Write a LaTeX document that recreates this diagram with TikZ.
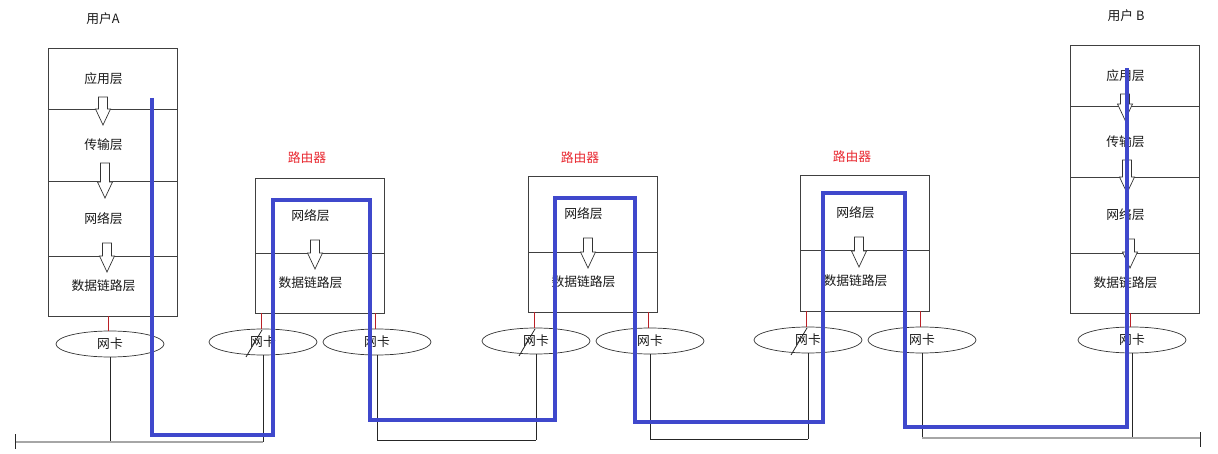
\documentclass[tikz,border=0pt]{standalone}
\usepackage{fontspec}
\setmainfont{Noto Sans CJK SC}
\usepackage{tikz}
\usetikzlibrary{positioning,shapes.geometric}
\usepackage{xcolor}
\definecolor{pathblue}{RGB}{63,72,204}
\definecolor{routerred}{RGB}{232,40,48}

\begin{document}
\begin{tikzpicture}[x=1pt, y=-1pt,
  every node/.style={font=\fontsize{12.8}{15}\selectfont, text=black!90},
  layer/.style={draw=black!75, line width=0.9pt, minimum width=129pt, inner sep=0pt,
                label={[xshift=-9pt]center:#1}},
  nic/.style={ellipse, draw=black!80, line width=0.7pt, minimum width=108pt,
              minimum height=26pt, inner sep=0pt},
  wire/.style={draw=black!85, line width=0.8pt},
  graybus/.style={draw=black!35, line width=1.4pt},
  redline/.style={draw=routerred!80!black, line width=0.7pt},
  route/.style={draw=pathblue, line width=3.2pt},
  pics/hollowdown/.style={code={
    \draw[black!80, line width=0.7pt, fill=white]
      (-4.5,0) -- (4.5,0) -- (4.5,#1-16) -- (7.5,#1-16) -- (0,#1)
      -- (-7.5,#1-16) -- (-4.5,#1-16) -- cycle;}}
]
\useasboundingbox (0,0) rectangle (1218,454);

% user A
\node (titleA) at (103,19) {用户A};
\node[layer=应用层,     minimum height=61pt] (aApp)   at (112.5,78.5)  {};
\node[layer=传输层,     minimum height=72pt] (aTrans) at (112.5,145)   {};
\node[layer=网络层,     minimum height=75pt] (aNet)   at (112.5,218.5) {};
\node[layer=数据链路层, minimum height=60pt] (aLink)  at (112.5,286)   {};

% routers
\node[text=routerred] (titleR1) at (307,158) {路由器};
\node[layer=网络层,     minimum height=75pt] (r1Net)  at (319.5,215.5) {};
\node[layer=数据链路层, minimum height=60pt] (r1Link) at (319.5,283)   {};

\node[text=routerred] (titleR2) at (580,158) {路由器};
\node[layer=网络层,     minimum height=76pt] (r2Net)  at (592.5,214)   {};
\node[layer=数据链路层, minimum height=60pt] (r2Link) at (592.5,282)   {};

\node[text=routerred] (titleR3) at (852,157) {路由器};
\node[layer=网络层,     minimum height=75pt] (r3Net)  at (864.5,212.5) {};
\node[layer=数据链路层, minimum height=61pt] (r3Link) at (864.5,280.5) {};

% user B
\node (titleB) at (1126,16) {用户 B};
\node[layer=应用层,     minimum height=61pt] (bApp)   at (1134.5,75.5) {};
\node[layer=传输层,     minimum height=71pt] (bTrans) at (1134.5,141.5) {};
\node[layer=网络层,     minimum height=76pt] (bNet)   at (1134.5,215)  {};
\node[layer=数据链路层, minimum height=60pt] (bLink)  at (1134.5,283)  {};

\pic at (103,97)   {hollowdown=28};
\pic at (105,163)  {hollowdown=35};
\pic at (107,243)  {hollowdown=29};
\pic at (315,240)  {hollowdown=29};
\pic at (588,238)  {hollowdown=30};
\pic at (859,237)  {hollowdown=30};
\pic at (1125,94)  {hollowdown=26};
\pic at (1127,160) {hollowdown=33};
\pic at (1130,239) {hollowdown=29};

% network cards
\node[nic] (nicA)   at (110,344)  {网卡};
\node[nic] (nicR1a) at (263,342)  {网卡};
\node[nic] (nicR1b) at (377,342)  {网卡};
\node[nic] (nicR2a) at (536,341)  {网卡};
\node[nic] (nicR2b) at (650,341)  {网卡};
\node[nic] (nicR3a) at (808,340)  {网卡};
\node[nic] (nicR3b) at (922,340)  {网卡};
\node[nic] (nicB)   at (1132,340) {网卡};

\coordinate (busW) at (15,442);
\coordinate (bus1) at (0,440);
\coordinate (bus2) at (0,439);
\coordinate (busE) at (1200,438);

\foreach \n/\b in {nicA/aLink, nicR1a/r1Link, nicR1b/r1Link, nicR2a/r2Link,
                   nicR2b/r2Link, nicR3a/r3Link, nicR3b/r3Link, nicB/bLink}
  \draw[redline] ([xshift=-2pt]\n.north) -- ([xshift=-2pt]\n.north |- \b.south);

\foreach \n/\bus in {nicA/busW, nicR1a/busW, nicR1b/bus1, nicR2a/bus1,
                     nicR2b/bus2, nicR3a/bus2, nicR3b/busE, nicB/busE}
  \draw[wire] (\n.south) -- (\n.south |- \bus);

\foreach \n in {nicR1a, nicR2a, nicR3a}
  \draw[wire] ([shift={(-1,-12)}]\n.center) -- ([shift={(-17,15)}]\n.center);

\draw[graybus] (busW) -- (nicR1a.south |- busW);
\draw[wire] (nicR1b.south |- bus1) -- (nicR2a.south |- bus1);
\draw[wire] (nicR2b.south |- bus2) -- (nicR3a.south |- bus2);
\draw[graybus] (nicR3b.south |- busE) -- (busE);
\draw[wire] ([yshift=8pt]busW) -- ([yshift=-7pt]busW);
\draw[wire] ([yshift=6pt]busE) -- ([yshift=-9pt]busE);

% data route
\draw[route] (152,98) |- (273,435) |- (370,200) |- (555,420) |- (635,198)
  |- (823,422) |- (905,193) |- (1127,427) -- (1127,68);

\end{tikzpicture}
\end{document}
